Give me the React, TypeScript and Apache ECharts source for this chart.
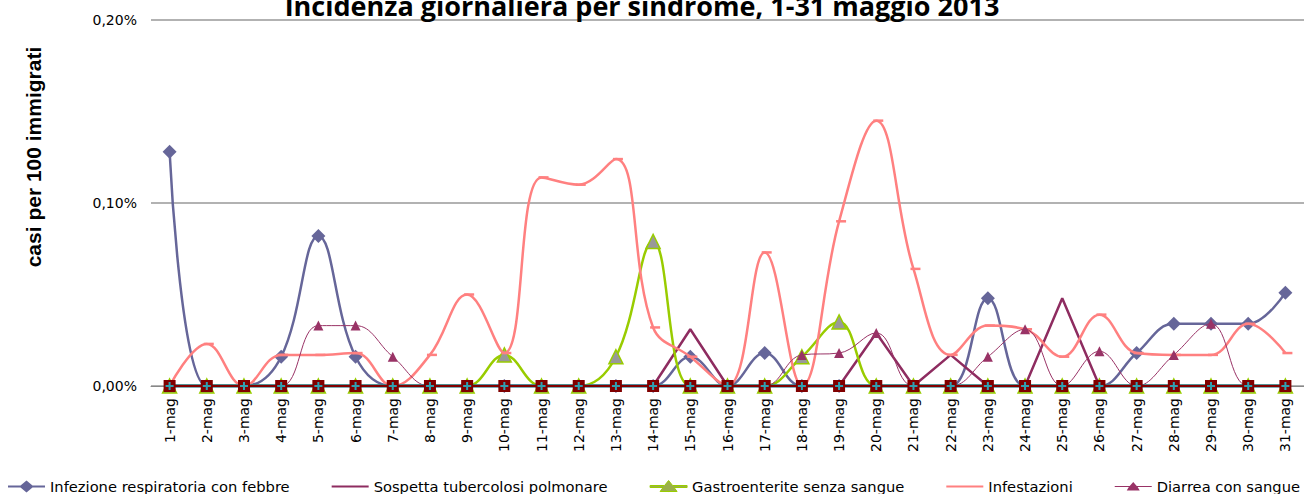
import React, { useEffect, useRef } from "react";
import * as echarts from "echarts";

const categories = [
  "1-mag","2-mag","3-mag","4-mag","5-mag","6-mag","7-mag","8-mag","9-mag","10-mag",
  "11-mag","12-mag","13-mag","14-mag","15-mag","16-mag","17-mag","18-mag","19-mag","20-mag",
  "21-mag","22-mag","23-mag","24-mag","25-mag","26-mag","27-mag","28-mag","29-mag","30-mag","31-mag",
];

const infezione = [0.128,0,0,0.016,0.082,0.016,0,0,0,0,0,0,0,0,0.016,0,0.018,0,0,0,0,0,0.048,0,0,0,0.018,0.034,0.034,0.034,0.051];
const tubercolosi = [0,0,0,0,0,0,0,0,0,0,0,0,0,0,0.031,0,0,0,0,0.029,0,0.017,0,0,0.048,0,0,0,0,0,0];
const gastro = [0,0,0,0,0,0,0,0,0,0.017,0,0,0.016,0.079,0,0,0,0.016,0.035,0,0,0,0,0,0,0,0,0,0,0,0];
const infestazioni = [0,0.023,0,0.017,0.017,0.018,0,0.017,0.05,0.018,0.114,0.11,0.124,0.032,0.016,0,0.073,0,0.09,0.145,0.064,0.017,0.033,0.031,0.016,0.039,0.018,0.017,0.017,0.034,0.018];
const diarrea = [0,0,0,0,0.033,0.033,0.016,0,0,0,0,0,0,0,0,0,0,0.017,0.018,0.029,0,0,0.016,0.031,0,0.019,0,0.017,0.034,0,0];
const altroA = [0,0,0,0,0,0,0,0,0,0,0,0,0,0,0,0,0,0,0,0,0,0,0,0,0,0,0,0,0,0,0];
const altroB = [0,0,0,0,0,0,0,0,0,0,0,0,0,0,0,0,0,0,0,0,0,0,0,0,0,0,0,0,0,0,0];

const yTicks = [0, 0.1, 0.2];

const legendNames = [
  "Infezione respiratoria con febbre",
  "Sospetta tubercolosi polmonare",
  "Gastroenterite senza sangue",
  "Infestazioni",
  "Diarrea con sangue",
];

const PLUS = "path://M3,0H5V3H8V5H5V8H3V5H0V3H3Z";
// legend icons drawn in a 37x12 box
const ICON_DIAMOND = "path://M0,5H12.5L18.5,0L24.5,5H37V7H24.5L18.5,12L12.5,7H0Z";
const ICON_LINE = "path://M0,5H37V7H0Z M18.5,0h0.01v0.01z M18.5,12h0.01v-0.01z";
const ICON_TRIANGLE = "path://M0,5H14.5L18.5,0L22.5,5H37V7H24L27,11H10L13,7H0Z M18.5,12h0.01v-0.01z";
const ICON_DASH = "path://M0,5H37V7H0Z M18.5,0h0.01v0.01z M18.5,12h0.01v-0.01z";
const ICON_SMALLTRI = "path://M0,5.5H15L18.5,1.5L22,5.5H37V6.5H22.9L25,10H12L14.1,6.5H0Z M18.5,0h0.01v0.01z M18.5,12h0.01v-0.01z";

export default function App() {
  const ref = useRef<HTMLDivElement>(null);
  useEffect(() => {
    if (!ref.current) return;
    const chart = echarts.init(ref.current, undefined, { renderer: "svg" });
    const font = "DejaVu Sans";
    chart.setOption({
      animation: false,
      backgroundColor: "#ffffff",
      title: {
        text: "Incidenza giornaliera per sindrome, 1-31 maggio 2013",
        left: 642,
        textAlign: "center",
        top: -8,
        padding: 0,
        textStyle: { fontFamily: "Open Sans", fontWeight: "bold", fontSize: 27, color: "#000" },
      },
      graphic: [
        {
          type: "text",
          x: 33,
          y: 157,
          rotation: Math.PI / 2,
          style: {
            text: "casi per 100 immigrati",
            font: "bold 21px 'Liberation Sans'",
            fill: "#000",
            align: "center",
            verticalAlign: "middle",
          },
        },
      ],
      legend: {
        data: [
          { name: legendNames[0], icon: ICON_DIAMOND, itemStyle: { color: "#666699" } },
          { name: legendNames[1], icon: ICON_LINE, itemStyle: { color: "#8E2C60" } },
          { name: legendNames[2], icon: ICON_TRIANGLE, itemStyle: { color: "#9BB04A", borderColor: "#99CC00", borderWidth: 1 } },
          { name: legendNames[3], icon: ICON_DASH, itemStyle: { color: "#FF8080" } },
          { name: legendNames[4], icon: ICON_SMALLTRI, itemStyle: { color: "#993366" } },
        ],
        left: 8,
        top: 479,
        padding: 0,
        width: 1600,
        itemWidth: 37,
        itemHeight: 12,
        itemGap: 42,
        textStyle: { fontFamily: font, fontSize: 14.7, color: "#000" },
      },
      grid: { left: 151, right: -4, top: 20, bottom: 108, containLabel: false },
      xAxis: {
        type: "category",
        data: categories,
        boundaryGap: true,
        axisLine: { show: true, lineStyle: { color: "#888", width: 1 } },
        axisTick: { show: false },
        axisLabel: { rotate: 90, margin: 12, fontFamily: font, fontSize: 14, color: "#000", interval: 0 },
      },
      yAxis: {
        type: "value",
        min: yTicks[0],
        max: yTicks[yTicks.length - 1],
        interval: 0.1,
        axisLine: { show: false },
        axisTick: { show: false },
        splitLine: { lineStyle: { color: "#999", width: 1.5 } },
        axisLabel: {
          margin: 14,
          fontFamily: font,
          fontSize: 14,
          color: "#000",
          formatter: (v: number) => v.toFixed(2).replace(".", ",") + "%",
        },
      },
      series: [
        {
          name: legendNames[0],
          type: "line",
          data: infezione,
          smooth: 0.4,
          symbol: "diamond",
          symbolSize: 14,
          color: "#666699",
          lineStyle: { width: 2.5, color: "#666699" },
          itemStyle: { color: "#666699" },
          z: 3,
        },
        {
          name: legendNames[1],
          type: "line",
          data: tubercolosi,
          smooth: false,
          showSymbol: false,
          symbol: "none",
          color: "#8E2C60",
          lineStyle: { width: 2.5, color: "#8E2C60" },
          z: 4,
        },
        {
          name: legendNames[2],
          type: "line",
          data: gastro,
          smooth: 0.4,
          symbol: "triangle",
          symbolSize: 14,
          color: "#99CC00",
          lineStyle: { width: 2.5, color: "#99CC00" },
          itemStyle: { color: "#999999", borderColor: "#99CC00", borderWidth: 1.5 },
          z: 5,
        },
        {
          name: legendNames[3],
          type: "line",
          data: infestazioni,
          smooth: 0.4,
          symbol: "rect",
          symbolSize: [10, 2.5],
          symbolOffset: [2, 0],
          color: "#FF8080",
          lineStyle: { width: 2.5, color: "#FF8080" },
          itemStyle: { color: "#FF8080" },
          z: 6,
        },
        {
          name: legendNames[4],
          type: "line",
          data: diarrea,
          smooth: 0.4,
          symbol: "triangle",
          symbolSize: 10,
          color: "#993366",
          lineStyle: { width: 1, color: "#993366" },
          itemStyle: { color: "#993366" },
          z: 7,
        },
        {
          name: "Serie 6",
          type: "line",
          data: altroB,
          symbol: "none",
          lineStyle: { width: 3.5, color: "#2B7F8F" },
          z: 8,
        },
        {
          name: "Serie 7",
          type: "line",
          data: altroA,
          symbol: "rect",
          symbolSize: 12,
          lineStyle: { width: 2, color: "#800000" },
          itemStyle: { color: "#800000" },
          z: 9,
        },
        {
          name: "Serie 8",
          type: "line",
          data: altroB,
          symbol: PLUS,
          symbolSize: 8,
          lineStyle: { width: 0 },
          itemStyle: { color: "#2FA0B0" },
          z: 10,
        },
      ],
    });
    return () => chart.dispose();
  }, []);
  return (
    <div
      ref={ref}
      style={{ position: "fixed", left: 0, top: 0, width: 1304, height: 494, background: "#fff" }}
    />
  );
}
